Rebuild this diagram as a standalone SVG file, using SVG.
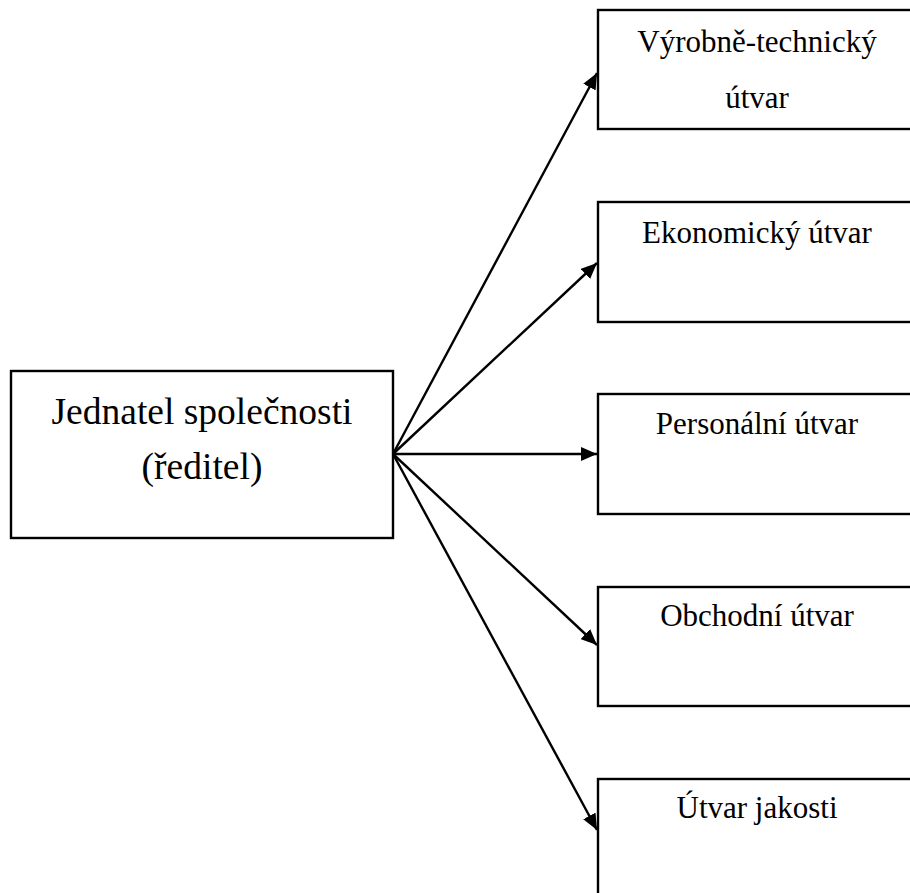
<svg xmlns="http://www.w3.org/2000/svg" width="910" height="893" viewBox="0 0 910 893">
<defs>
<marker id="arr" viewBox="0 0 16 14" refX="16" refY="7" markerWidth="16" markerHeight="14" markerUnits="userSpaceOnUse" orient="auto">
<path d="M0,0 L16,7 L0,14 Z" fill="#000"/>
</marker>
</defs>
<style>
.box{fill:#fff;stroke:#000;stroke-width:2.4}
.t{font-family:"Liberation Serif","Times New Roman",serif;font-size:31px;fill:#000;text-anchor:middle}
.tl{font-family:"Liberation Serif","Times New Roman",serif;font-size:37.5px;fill:#000;text-anchor:middle}
.c{stroke:#000;stroke-width:2.4;fill:none;marker-end:url(#arr)}
</style>
<rect width="910" height="893" fill="#fff"/>
<g id="connectors">
<line class="c" x1="393" y1="454" x2="597" y2="73"/>
<line class="c" x1="393" y1="454" x2="597" y2="263"/>
<line class="c" x1="393" y1="454" x2="597" y2="454"/>
<line class="c" x1="393" y1="454" x2="597" y2="645"/>
<line class="c" x1="393" y1="454" x2="597" y2="830"/>
</g>
<g id="n0">
<rect class="box" x="11" y="371" width="382" height="167"/>
<text class="tl" x="202" y="424">Jednatel společnosti</text>
<text class="tl" x="202" y="479">(ředitel)</text>
</g>
<g id="n1">
<rect class="box" x="598" y="10" width="330" height="119"/>
<text class="t" x="757" y="52">Výrobně-technický</text>
<text class="t" x="757" y="108">útvar</text>
</g>
<g id="n2">
<rect class="box" x="598" y="202" width="330" height="120"/>
<text class="t" x="757" y="243">Ekonomický útvar</text>
</g>
<g id="n3">
<rect class="box" x="598" y="394" width="330" height="120"/>
<text class="t" x="757" y="434">Personální útvar</text>
</g>
<g id="n4">
<rect class="box" x="598" y="587" width="330" height="119"/>
<text class="t" x="757" y="626">Obchodní útvar</text>
</g>
<g id="n5">
<rect class="box" x="598" y="779" width="330" height="130"/>
<text class="t" x="757" y="818">Útvar jakosti</text>
</g>
</svg>
